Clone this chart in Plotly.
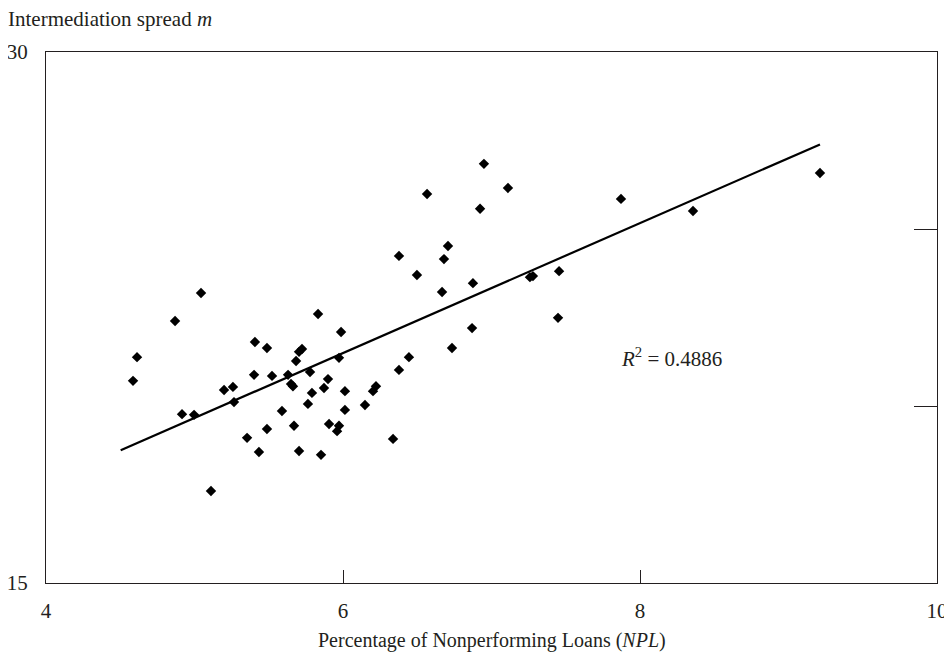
import plotly.graph_objects as go

# Percentage of nonperforming loans (NPL) and intermediation spread (m)
npl = [4.586, 4.613, 4.869, 4.916, 4.997, 5.044, 5.111, 5.199, 5.259, 5.266,
       5.354, 5.401, 5.407, 5.434, 5.488, 5.488, 5.522, 5.589, 5.630, 5.650,
       5.663, 5.670, 5.684, 5.704, 5.724, 5.704, 5.764, 5.778, 5.791, 5.832,
       5.852, 5.872, 5.899, 5.906, 5.960, 5.973, 5.973, 5.987, 6.013, 6.013,
       6.148, 6.202, 6.222, 6.337, 6.377, 6.377, 6.444, 6.498, 6.566, 6.667,
       6.680, 6.707, 6.734, 6.875, 6.869, 6.923, 6.949, 7.111, 7.259, 7.279,
       7.448, 7.455, 7.872, 8.357, 9.212]
spread = [20.71, 21.38, 22.40, 19.77, 19.75, 23.19, 17.60, 20.45, 20.54, 20.11,
          19.10, 20.88, 21.81, 18.70, 21.64, 19.35, 20.85, 19.86, 20.88, 20.62,
          20.56, 19.44, 21.27, 21.53, 21.61, 18.73, 20.06, 20.96, 20.37, 22.60,
          18.62, 20.51, 20.76, 19.49, 19.29, 19.44, 21.36, 22.09, 20.42, 19.89,
          20.03, 20.42, 20.56, 19.07, 21.02, 24.24, 21.38, 23.70, 25.99, 23.22,
          24.15, 24.52, 21.64, 23.47, 22.20, 25.57, 26.84, 26.16, 23.64, 23.67,
          22.49, 23.81, 25.85, 25.51, 26.58]

# Linear trend line endpoints (as drawn)
trend_x = [4.503, 9.212]
trend_y = [18.75, 27.39]

x_ticks = [4, 6, 8, 10]
y_label_ticks = [15, 30]
y_inner_ticks = [20, 25]
r2_text = "<i>R</i><sup>2</sup> = 0.4886"

FONT = "Liberation Serif, Times New Roman, serif"
INK = "#231f20"

fig = go.Figure()
fig.add_trace(go.Scatter(x=trend_x, y=trend_y, mode="lines",
                         line=dict(color="black", width=2.2),
                         hoverinfo="skip", showlegend=False))
fig.add_trace(go.Scatter(x=npl, y=spread, mode="markers",
                         marker=dict(symbol="diamond", size=8, color="black",
                                     line=dict(width=0)),
                         showlegend=False))
fig.add_trace(go.Scatter(x=[4], y=[15], yaxis="y2", mode="markers",
                         marker=dict(opacity=0), showlegend=False,
                         hoverinfo="skip"))

# page body has an 8px margin, so the figure is sized 944x653
fig.update_layout(
    width=944, height=653,
    margin=dict(l=38, r=15, t=44, b=78),
    paper_bgcolor="white", plot_bgcolor="white",
    font=dict(family=FONT, size=21, color=INK),
    xaxis=dict(range=[4, 10], tickvals=x_ticks, ticktext=[str(v) for v in x_ticks],
               ticks="inside", ticklen=13, tickwidth=1, tickcolor=INK,
               showline=True, linecolor=INK, linewidth=1.3, mirror=True,
               showgrid=False, zeroline=False, ticklabelstandoff=9,
               automargin=False),
    yaxis=dict(range=[15, 30], tickvals=y_label_ticks,
               ticktext=[str(v) for v in y_label_ticks],
               ticks="", showline=True, linecolor=INK, linewidth=1.3, mirror=True,
               showgrid=False, zeroline=False, ticklabelstandoff=13,
               automargin=False),
    yaxis2=dict(range=[15, 30], overlaying="y", side="right", anchor="x",
                tickvals=y_inner_ticks, ticks="inside", ticklen=23, tickwidth=1,
                tickcolor=INK, showticklabels=False, showline=False,
                showgrid=False, zeroline=False, automargin=False),
    annotations=[
        dict(text="Intermediation spread <i>m</i>", xref="paper", yref="paper",
             x=0, y=1, xanchor="left", yanchor="middle", xshift=-40, yshift=33,
             showarrow=False, font=dict(size=21)),
        dict(text="Percentage of Nonperforming Loans (<i>NPL</i>)", xref="paper",
             yref="paper", x=0.5, y=0, xanchor="center", yanchor="middle",
             yshift=-57, showarrow=False, font=dict(size=20)),
        dict(text=r2_text, xref="x", yref="y", x=7.86, y=21.36, xanchor="left",
             yanchor="middle", showarrow=False, font=dict(size=21)),
    ],
)

fig.write_html("out.html")
